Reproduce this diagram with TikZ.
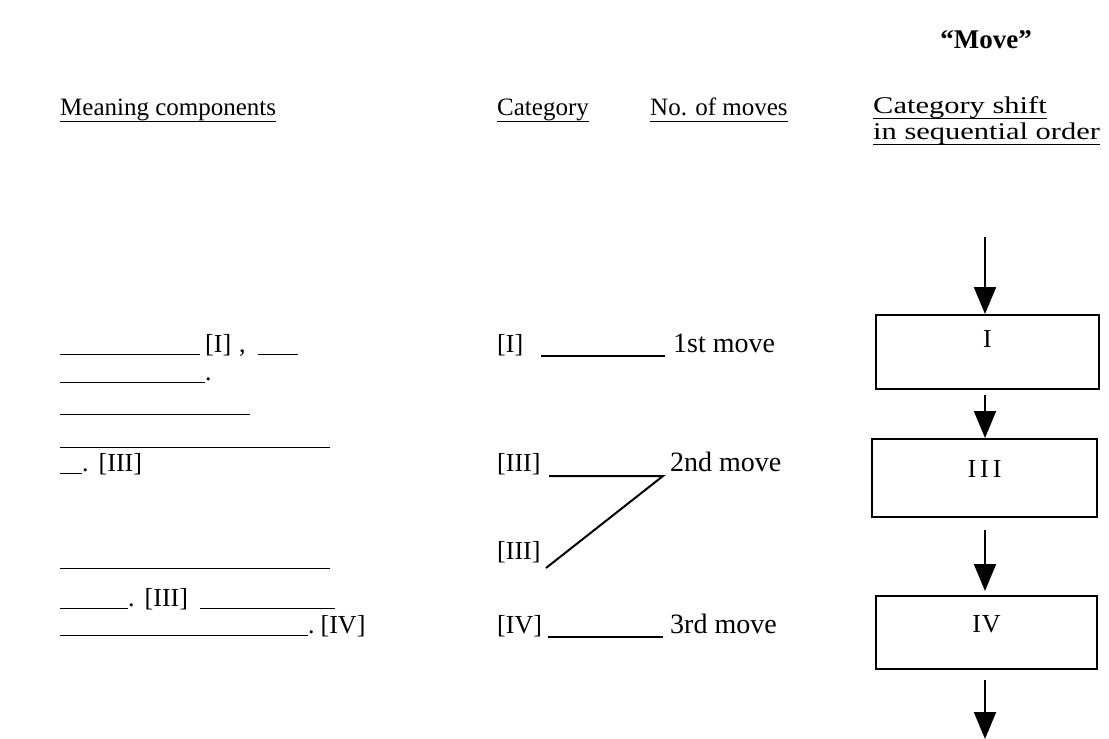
\documentclass[tikz,border=0pt]{standalone}
\usepackage{fontspec}
\setmainfont{Liberation Serif}
\newfontfamily\widefont[FakeStretch=1.27]{Liberation Serif}
\usetikzlibrary{arrows.meta}
\newcommand{\blankline}[1]{\rule[-3pt]{#1pt}{1.5pt}}
\begin{document}
\begin{tikzpicture}[x=1pt,y=-1pt,
  every node/.style={inner sep=0pt},
  body/.style={anchor=base west, font=\fontsize{26}{29}\selectfont},
  cat/.style={anchor=base west, font=\fontsize{26}{29}\selectfont},
  movetxt/.style={anchor=base west, font=\fontsize{28}{32}\selectfont},
  hdr/.style={anchor=base west, font=\fontsize{25}{28}\selectfont, text depth=6pt},
  whdr/.style={anchor=base west, font=\widefont\fontsize{24}{28}\selectfont, text depth=5pt},
  uline/.style={line width=1.4pt},
  box/.style={draw, line width=2pt, anchor=north, font=\fontsize{26}{30}\selectfont},
  arr/.style={-{Triangle[length=27pt,width=22pt]}, line width=2pt},
  conn/.style={line width=2pt}]
\useasboundingbox (0,0) rectangle (1109,739);

% title
\node[font=\bfseries\fontsize{27}{30}\selectfont, anchor=base] (t) at (986,48) {“Move”};

% headers
\node[hdr] (h1) at (60,115) {Meaning components};
\node[hdr] (h2) at (497,115) {Category};
\node[hdr] (h3) at (650,115) {No. of moves};
\node[whdr] (h4) at (873,113) {Category shift};
\node[whdr] (h5) at (873,139) {in sequential order};
\foreach \h in {h1,h2,h3,h4,h5}
  \draw[uline] (\h.south west) -- (\h.south east);

% meaning components
\node[body] (m1) at (60,352) {\blankline{140}\hspace{5pt}[I]\hspace{8pt},\hspace{12pt}\blankline{40}};
\node[body] (m2) at (60,380) {\blankline{145}.};
\node[body] (m3) at (60,412) {\blankline{190}};
\node[body] (m4) at (60,445) {\blankline{270}};
\node[body] (m5) at (60,471) {\blankline{22}.\hspace{10pt}[III]};
\node[body] (m6) at (60,566) {\blankline{270}};
\node[body] (m7) at (60,606) {\blankline{68}.\hspace{10pt}[III]\hspace{12pt}\blankline{135}};
\node[body] (m8) at (60,633) {\blankline{248}.\hspace{6pt}[IV]};

% categories
\node[cat] (c1) at (497,352) {[I]};
\node[cat] (c2) at (497,471) {[III]};
\node[cat] (c3) at (497,559) {[III]};
\node[cat] (c4) at (497,633) {[IV]};

% moves
\node[movetxt] (n1) at (673,352) {1st move};
\node[movetxt] (n2) at (670,471) {2nd move};
\node[movetxt] (n3) at (670,633) {3rd move};

% connectors
\coordinate (l1a) at (541,356);
\coordinate (l1b) at (665,356);
\coordinate (l2a) at (549,476);
\coordinate (l2b) at (663,476);
\coordinate (l2c) at (546,568);
\coordinate (l3a) at (548,637);
\coordinate (l3b) at (663,637);
\draw[conn] (l1a) -- (l1b);
\draw[conn, line join=miter] (l2a) -- (l2b) -- (l2c);
\draw[conn] (l3a) -- (l3b);

% boxes
\node[box, minimum width=223pt, text height=32pt, text depth=42pt] (b1) at (987.5,314) {I};
\node[box, minimum width=225pt, text height=38pt, text depth=40pt] (b3) at (984.5,438) {I\hspace{4pt}I\hspace{4pt}I};
\node[box, minimum width=221pt, text height=36pt, text depth=37pt] (b4) at (986.5,595) {I\hspace{1pt}V};

% arrows
\coordinate (a0) at (985,237);
\coordinate (aend) at (985,739);
\draw[arr] (a0) -- (a0 |- b1.north);
\draw[arr, shorten <=5pt] (b1.south -| a0) -- (b3.north -| a0);
\draw[arr, shorten <=12pt, shorten >=4pt] (b3.south -| a0) -- (b4.north -| a0);
\draw[arr, shorten <=10pt] (b4.south -| a0) -- (aend);
\end{tikzpicture}
\end{document}
